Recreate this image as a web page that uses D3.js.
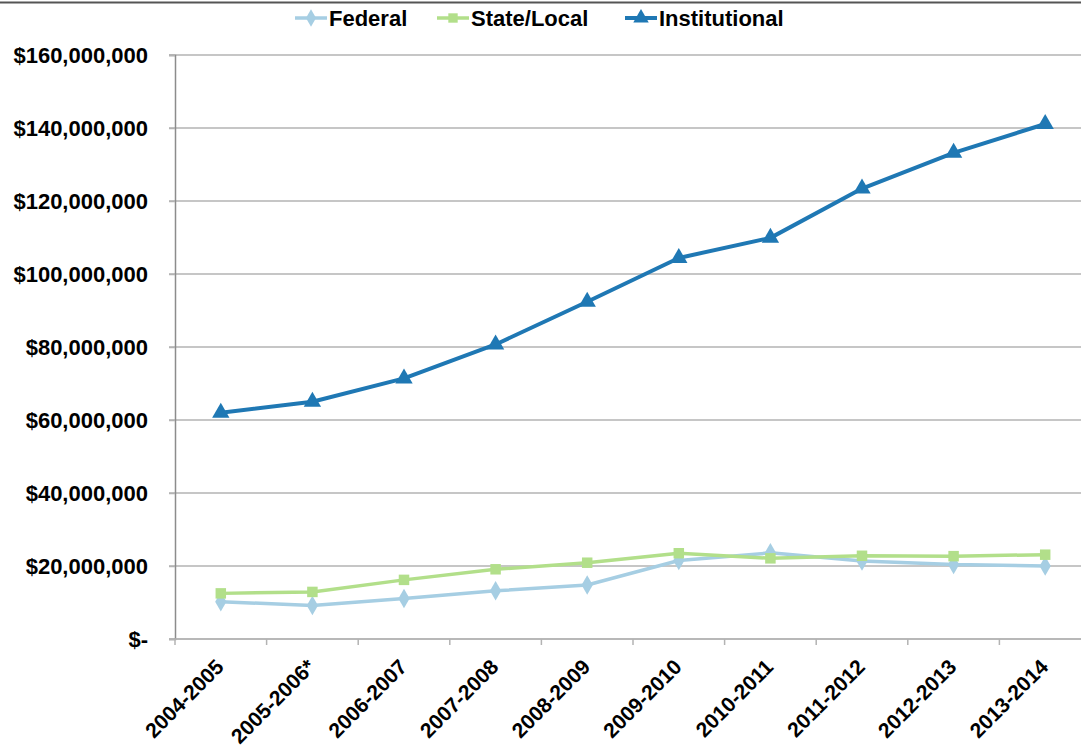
<!DOCTYPE html>
<html>
<head>
<meta charset="utf-8">
<script src="https://cdn.jsdelivr.net/npm/d3@7"></script>
<style>
  body { margin: 0; background: #fff; }
  svg { display: block; font-family: "Liberation Sans", Arial, sans-serif; }
</style>
</head>
<body>
<svg id="chart" width="1081" height="750"></svg>
<script>
// academic years on the x axis
var years = ["2004-2005", "2005-2006*", "2006-2007", "2007-2008", "2008-2009",
             "2009-2010", "2010-2011", "2011-2012", "2012-2013", "2013-2014"];

// funding per source, dollars
var federal = [10200000, 9200000, 11100000, 13200000, 14800000,
               21500000, 23600000, 21400000, 20400000, 20000000];
var stateLocal = [12500000, 12900000, 16200000, 19100000, 20900000,
                  23500000, 22100000, 22800000, 22700000, 23100000];
var institutional = [62000000, 65000000, 71400000, 80700000, 92400000,
                     104400000, 109900000, 123400000, 133200000, 141100000];

var yTicks = [0, 20000000, 40000000, 60000000, 80000000,
              100000000, 120000000, 140000000, 160000000];

var seriesNames = ["Federal", "State/Local", "Institutional"];
var seriesColors = ["#a6cee3", "#b2df8a", "#1f78b4"];
var seriesSymbols = [d3.symbolDiamond, d3.symbolSquare, d3.symbolTriangle];

document.addEventListener('DOMContentLoaded', function () {
    drawChart();
});

function drawChart() {
    var svg = d3.select('#chart');
    var left = 175, right = 1091, top = 55, bottom = 639;

    var x = d3.scaleBand().domain(years).range([left, right]);
    var y = d3.scaleLinear().domain([0, 160000000]).range([bottom, top]);

    // frame line across the top
    svg.append('line')
        .attr('x1', 0).attr('x2', 1081)
        .attr('y1', 2.5).attr('y2', 2.5)
        .style('stroke', '#555').style('stroke-width', 2);

    // gridlines
    svg.append('g').selectAll('line')
        .data(yTicks)
        .enter()
        .append('line')
        .attr('x1', left - 6).attr('x2', right)
        .attr('y1', d => y(d)).attr('y2', d => y(d))
        .style('stroke', '#b3b3b3').style('stroke-width', 1.5);

    // y axis
    var axisY = d3.axisLeft(y)
        .tickValues(yTicks)
        .tickSize(6)
        .tickPadding(21)
        .tickFormat(d => d === 0 ? "$-" : "$" + d3.format(",")(d));
    var gy = svg.append('g')
        .attr('transform', 'translate(' + left + ', 0)')
        .call(axisY);
    gy.select('.domain').style('stroke', '#8c8c8c').style('stroke-width', 1.5);
    gy.selectAll('.tick line').style('stroke', '#b3b3b3').style('stroke-width', 1.5);
    gy.selectAll('text')
        .style('font-size', '22px').style('font-weight', 'bold').style('fill', '#000');

    // x axis: baseline and ticks at band edges
    svg.append('line')
        .attr('x1', left).attr('x2', right)
        .attr('y1', bottom).attr('y2', bottom)
        .style('stroke', '#b3b3b3').style('stroke-width', 1.5);
    var edges = years.map(d => x(d)).concat([right]);
    svg.append('g').selectAll('line')
        .data(edges)
        .enter()
        .append('line')
        .attr('x1', d => d).attr('x2', d => d)
        .attr('y1', bottom).attr('y2', bottom + 6)
        .style('stroke', '#b3b3b3').style('stroke-width', 1.5);

    svg.append('g').selectAll('text')
        .data(years)
        .enter()
        .append('text')
        .attr('transform', d => 'translate(' + (x(d) + x.bandwidth() / 2 - 1) + ', ' + 663 + ') rotate(-45)')
        .attr('text-anchor', 'end')
        .attr('dy', '0.35em')
        .style('font-size', '21px').style('font-weight', 'bold')
        .text(d => d);

    // series
    var allSeries = [federal, stateLocal, institutional];
    var widths = [3.5, 3.5, 4];
    var sizes = [110, 110, 130];
    var line = d3.line()
        .x((d, i) => x(years[i]) + x.bandwidth() / 2)
        .y(d => y(d));

    allSeries.forEach(function (vals, s) {
        svg.append('path')
            .datum(vals)
            .attr('d', line)
            .style('fill', 'none')
            .style('stroke', seriesColors[s])
            .style('stroke-width', widths[s])
            .style('stroke-linejoin', 'round');
        svg.append('g').selectAll('path')
            .data(vals)
            .enter()
            .append('path')
            .attr('d', d3.symbol().type(seriesSymbols[s]).size(sizes[s]))
            .attr('transform', (d, i) => 'translate(' + (x(years[i]) + x.bandwidth() / 2) + ', ' + y(d) + ')')
            .style('fill', seriesColors[s]);
    });

    // legend
    var legendX = [295, 437, 625];
    var legend = svg.append('g');
    seriesNames.forEach(function (name, s) {
        var g = legend.append('g').attr('transform', 'translate(' + legendX[s] + ', 18)');
        g.append('line')
            .attr('x1', 0).attr('x2', 32)
            .style('stroke', seriesColors[s])
            .style('stroke-width', widths[s]);
        g.append('path')
            .attr('d', d3.symbol().type(seriesSymbols[s]).size(sizes[s] * 0.8))
            .attr('transform', 'translate(16, 0)')
            .style('fill', seriesColors[s]);
        g.append('text')
            .attr('x', 34)
            .attr('dy', '0.35em')
            .style('font-size', '22px').style('font-weight', 'bold')
            .text(name);
    });
}
</script>
</body>
</html>
